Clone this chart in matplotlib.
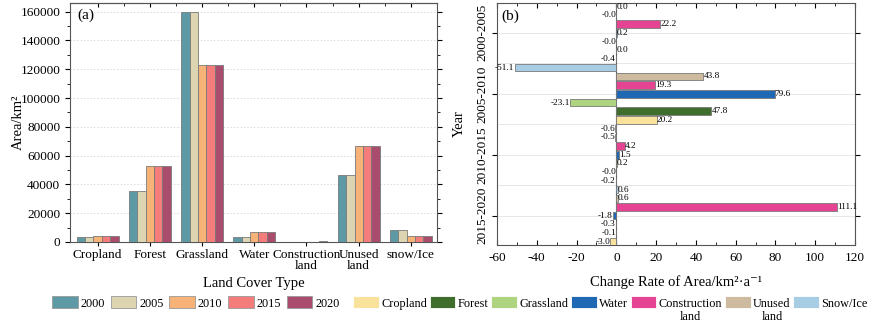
import matplotlib
matplotlib.use("Agg")
import matplotlib.pyplot as plt
import numpy as np
from matplotlib.patches import Patch
from matplotlib.ticker import MultipleLocator

plt.rcParams['font.family'] = ['Liberation Serif', 'DejaVu Serif']
plt.rcParams['axes.unicode_minus'] = False

# ---------------- data ----------------
land_types = ["Cropland", "Forest", "Grassland", "Water", "Construction\nland", "Unused\nland", "snow/Ice"]
years = ["2000", "2005", "2010", "2015", "2020"]
area_2000 = [3400, 35700, 160000, 3800, 50, 46500, 8300]
area_2005 = [3400, 35700, 160000, 3800, 60, 46500, 8300]
area_2010 = [4200, 52700, 123000, 6800, 150, 67000, 3900]
area_2015 = [4200, 52700, 123200, 6900, 170, 66700, 3900]
area_2020 = [4100, 52700, 123000, 6900, 600, 67000, 4000]
year_colors = ["#5E9AA5", "#DDD5B1", "#F6B277", "#F47C7B", "#A94C6D"]

periods = ["2000-2005", "2005-2010", "2010-2015", "2015-2020"]
rate_types = ["Cropland", "Forest", "Grassland", "Water", "Construction", "Unused", "Snow/Ice"]
rate_types_second_line = ["", "", "", "", "land", "land", ""]
rate_cropland = [-0.4, 20.2, -0.2, -3.0]
rate_forest = [0.01, 47.8, -0.01, -0.1]
rate_grassland = [-0.01, -23.1, 0.2, -0.3]
rate_water = [0.2, 79.6, 1.5, -1.8]
rate_construction = [22.2, 19.3, 4.2, 111.1]
rate_unused = [-0.01, 43.8, -0.5, 0.6]
rate_snow = [0.01, -51.1, -0.6, 0.6]
rate_colors = ["#F9E29C", "#3E6D2C", "#AED47F", "#1F69B4", "#E44491", "#CDBA9F", "#A7CDE5"]

W, H = 875, 326
fig = plt.figure(figsize=(W / 100, H / 100), dpi=100)

def ax_rect(x0, y0, x1, y1):
    return [x0 / W, 1 - y1 / H, (x1 - x0) / W, (y1 - y0) / H]

FS_TICK = 9.5
FS_LAB = 10.5

# ---------------- panel (a) ----------------
ax1 = fig.add_axes(ax_rect(70, 3, 437, 242))
series = [area_2000, area_2005, area_2010, area_2015, area_2020]
x = np.arange(len(land_types))
bw = 0.16
for i, (vals, c) in enumerate(zip(series, year_colors)):
    ax1.bar(x + (i - 2) * bw, vals, width=bw, color=c, edgecolor="#7a7a7a", linewidth=0.6,
            label=years[i], zorder=3)
ax1.set_xlim(-0.53, 6.5)
ax1.set_ylim(0, 166000)
ax1.yaxis.set_major_locator(MultipleLocator(20000))
ax1.yaxis.set_minor_locator(MultipleLocator(10000))
ax1.set_xticks(x)
ax1.set_xticklabels(land_types, fontsize=FS_TICK, linespacing=0.95)
ax1.tick_params(axis='y', which='both', direction='out', labelsize=FS_TICK, right=True)
ax1.tick_params(axis='y', which='major', length=3.5)
ax1.tick_params(axis='y', which='minor', length=2)
ax1.tick_params(axis='x', which='major', direction='out', length=3, pad=2)
sec = ax1.secondary_xaxis('top')
sec.set_xticks(x)
sec.set_xticks(x[:-1] + 0.5, minor=True)
sec.tick_params(axis='x', which='both', direction='in', labeltop=False)
sec.tick_params(axis='x', which='major', length=3)
sec.tick_params(axis='x', which='minor', length=2)
sec.spines['top'].set_color("#555555")
sec.spines['top'].set_linewidth(0.8)
ax1.grid(axis='y', which='major', color='#d9d9d9', linestyle=(0, (2, 2)), linewidth=0.6, zorder=0)
ax1.set_ylabel("Area/km²", fontsize=FS_LAB, va='center')
ax1.yaxis.set_label_coords((18 - 70) / 367, 0.5)
ax1.set_xlabel("Land Cover Type", fontsize=FS_LAB)
ax1.xaxis.set_label_coords(0.5, -(283 - 242) / 239)
ax1.xaxis.label.set_va('center')
for s in ax1.spines.values():
    s.set_color("#555555")
    s.set_linewidth(0.8)
ax1.text(0.02, 0.975, "(a)", transform=ax1.transAxes, fontsize=11, va='top', ha='left')

# ---------------- panel (b) ----------------
ax2 = fig.add_axes(ax_rect(497, 3, 855, 245))
rates = [rate_cropland, rate_forest, rate_grassland, rate_water, rate_construction, rate_unused, rate_snow]
yp = np.arange(len(periods))
h = 1 / 7
for j, (vals, c) in enumerate(zip(rates, rate_colors)):
    pos = yp + (3 - j) * h
    ax2.barh(pos, vals, height=h * 0.86, color=c, edgecolor="#7a7a7a", linewidth=0.6, zorder=3)
    for p, v in zip(pos, vals):
        txt = f"{v:.1f}"
        if v >= 0:
            ax2.text(v + 0.1, p, txt, fontsize=6.7, va='center', ha='left', zorder=4)
        else:
            ax2.text(v - 0.1, p, txt, fontsize=6.7, va='center', ha='right', zorder=4)
ax2.set_xlim(-60, 120)
ax2.set_ylim(3.48, -0.49)
ax2.xaxis.set_major_locator(MultipleLocator(20))
ax2.xaxis.set_minor_locator(MultipleLocator(10))
ax2.set_yticks(yp)
ax2.set_yticks(yp[:-1] + 0.5, minor=True)
ax2.set_yticklabels(periods, rotation=90, va='center', fontsize=FS_TICK)
ax2.tick_params(axis='y', which='major', direction='out', length=3.5, right=True, pad=3)
ax2.tick_params(axis='y', which='minor', length=0)
ax2.tick_params(axis='x', which='both', direction='in', top=True, labelsize=FS_TICK, pad=5)
ax2.tick_params(axis='x', which='major', length=3.5)
ax2.tick_params(axis='x', which='minor', length=2)
ax2.grid(axis='y', which='both', color='#e3e3e3', linestyle='-', linewidth=0.6, zorder=0)
ax2.axvline(0, color="#555555", linewidth=0.8, zorder=2)
ax2.set_ylabel("Year", fontsize=FS_LAB, va='center')
ax2.yaxis.set_label_coords((459 - 497) / 358, 0.5)
ax2.set_xlabel("Change Rate of Area/km²·a⁻¹", fontsize=FS_LAB)
ax2.xaxis.set_label_coords(0.5, -(282 - 245) / 242)
ax2.xaxis.label.set_va('center')
for s in ax2.spines.values():
    s.set_color("#555555")
    s.set_linewidth(0.8)
ax2.text(0.012, 0.975, "(b)", transform=ax2.transAxes, fontsize=11, va='top', ha='left')

# ---------------- legends ----------------
FS_LEG = 8.8
h1 = [Patch(facecolor=c, edgecolor="#999999", linewidth=0.6) for c in year_colors]
leg1 = fig.legend(h1, years, loc='center left', bbox_to_anchor=(52 / W, 1 - 303 / H), ncol=5,
                  frameon=False, fontsize=FS_LEG, handlelength=2.1, handleheight=1.1,
                  handletextpad=0.25, columnspacing=0.45, borderpad=0, borderaxespad=0)
h2 = [Patch(facecolor=c, edgecolor="white", linewidth=0.6) for c in rate_colors]
leg2 = fig.legend(h2, rate_types, loc='center left', bbox_to_anchor=(353 / W, 1 - 303 / H), ncol=7,
                  frameon=False, fontsize=FS_LEG, handlelength=2.1, handleheight=1.1,
                  handletextpad=0.2, columnspacing=0.22, borderpad=0, borderaxespad=0)

fig.canvas.draw()
renderer = fig.canvas.get_renderer()
inv = fig.transFigure.inverted()
for t, second in zip(leg2.get_texts(), rate_types_second_line):
    if second:
        bb = t.get_window_extent(renderer)
        cx = (bb.x0 + bb.x1) / 2
        fx, fy = inv.transform((cx, bb.y0 - 1))
        fig.text(fx, fy, second, fontsize=FS_LEG, ha='center', va='top')

fig.savefig("out.png", dpi=100)
